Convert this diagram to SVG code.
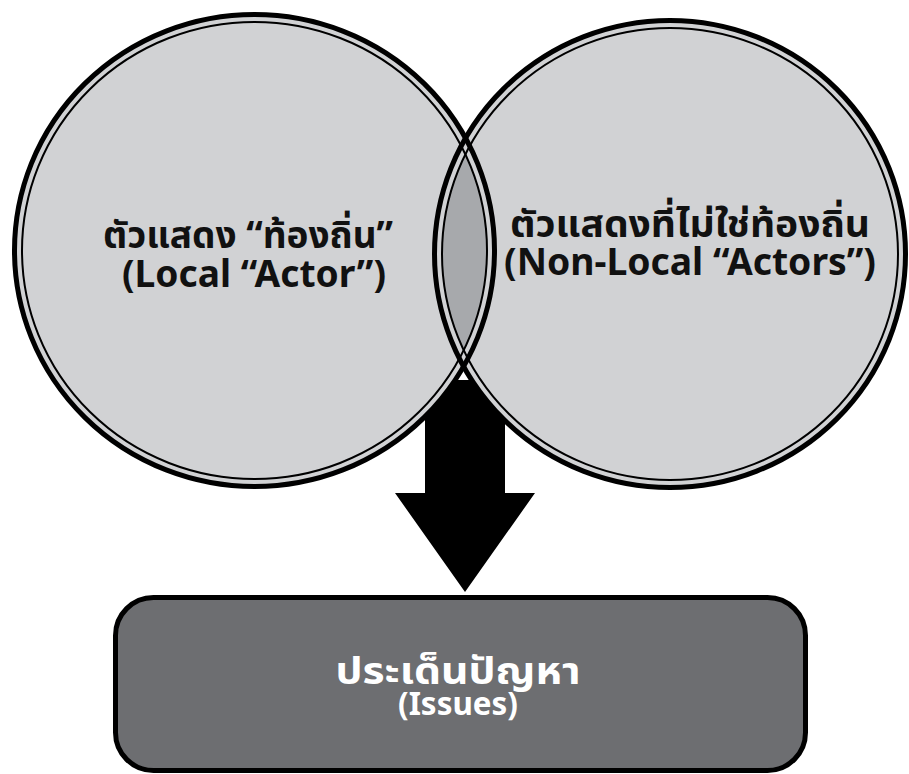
<svg xmlns="http://www.w3.org/2000/svg" width="909" height="774" viewBox="0 0 909 774">
<style>
.fill{fill:#d1d2d4}
.thick{fill:none;stroke:#000;stroke-width:5}
.thin{fill:none;stroke:#000;stroke-width:2}
.lbl{font-family:'Noto Sans','Noto Sans Thai','DejaVu Sans',sans-serif;font-weight:bold;text-anchor:middle;fill:#111}
.th{font-size:38px}
.en{font-size:37px}
.wlbl{font-family:'Noto Sans','Noto Sans Thai','DejaVu Sans',sans-serif;font-weight:bold;text-anchor:middle;fill:#fff}
</style>
<defs>
<clipPath id="clipA"><ellipse cx="254.5" cy="250.5" rx="232.5" ry="228.5"/></clipPath>
</defs>
<rect width="909" height="774" fill="#fff"/>
<g id="connectors">
<polygon points="425,380 505,380 505,493 535,493 465,592 395,493 425,493" fill="#000"/>
</g>
<g id="node-local">
<ellipse class="fill" cx="254.5" cy="250.5" rx="240" ry="236"/>
</g>
<g id="node-nonlocal">
<ellipse class="fill" cx="670" cy="254" rx="235.5" ry="233.5"/>
</g>
<g id="overlap">
<ellipse cx="670" cy="254" rx="228" ry="226" fill="#a7a9ac" clip-path="url(#clipA)"/>
</g>
<g id="rings">
<ellipse class="thick" cx="254.5" cy="250.5" rx="240" ry="236"/>
<ellipse class="thin" cx="254.5" cy="250.5" rx="232.5" ry="228.5"/>
<ellipse class="thick" cx="670" cy="254" rx="235.5" ry="233.5"/>
<ellipse class="thin" cx="670" cy="254" rx="228" ry="226"/>
</g>
<g id="label-local">
<text class="lbl th" x="248" y="248" textLength="290" lengthAdjust="spacingAndGlyphs">ตัวแสดง “ท้องถิ่น”</text>
<text class="lbl en" x="254" y="287" textLength="264" lengthAdjust="spacingAndGlyphs">(Local “Actor”)</text>
</g>
<g id="label-nonlocal">
<text class="lbl th" x="690" y="237" textLength="360" lengthAdjust="spacingAndGlyphs">ตัวแสดงที่ไม่ใช่ท้องถิ่น</text>
<text class="lbl en" x="690" y="275" textLength="372" lengthAdjust="spacingAndGlyphs">(Non-Local “Actors”)</text>
</g>
<g id="node-issues">
<rect x="115.5" y="597.5" width="690" height="173" rx="38" ry="38" fill="#6d6e71" stroke="#000" stroke-width="5"/>
<text class="wlbl" x="458" y="684" font-size="38" textLength="245" lengthAdjust="spacingAndGlyphs">ประเด็นปัญหา</text>
<text class="wlbl" x="458" y="715" font-size="32" textLength="120" lengthAdjust="spacingAndGlyphs">(Issues)</text>
</g>
</svg>
